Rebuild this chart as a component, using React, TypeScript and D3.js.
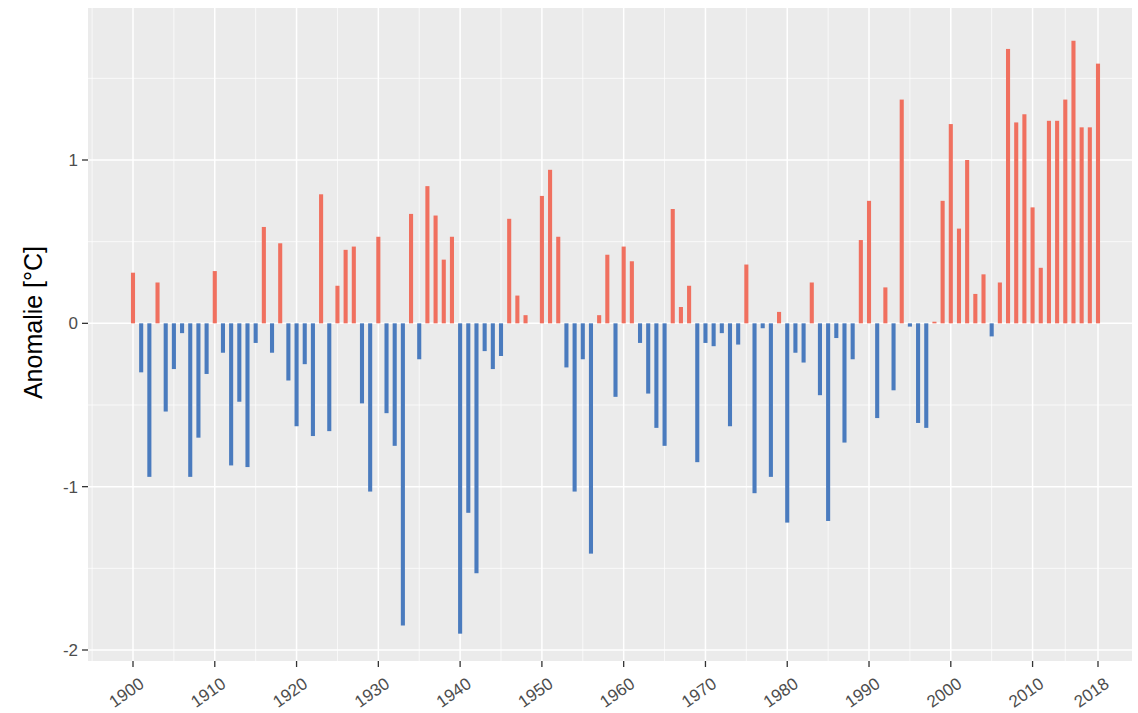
import React from "react";
import * as d3 from "d3";

const years: number[] = d3.range(1900, 2019);
const anomalies: number[] = [
  0.31, -0.30, -0.94, 0.25, -0.54, -0.28, -0.06, -0.94, -0.70, -0.31,
  0.32, -0.18, -0.87, -0.48, -0.88, -0.12, 0.59, -0.18, 0.49, -0.35,
  -0.63, -0.25, -0.69, 0.79, -0.66, 0.23, 0.45, 0.47, -0.49, -1.03,
  0.53, -0.55, -0.75, -1.85, 0.67, -0.22, 0.84, 0.66, 0.39, 0.53,
  -1.90, -1.16, -1.53, -0.17, -0.28, -0.20, 0.64, 0.17, 0.05, 0.00,
  0.78, 0.94, 0.53, -0.27, -1.03, -0.22, -1.41, 0.05, 0.42, -0.45,
  0.47, 0.38, -0.12, -0.43, -0.64, -0.75, 0.70, 0.10, 0.23, -0.85,
  -0.12, -0.14, -0.06, -0.63, -0.13, 0.36, -1.04, -0.03, -0.94, 0.07,
  -1.22, -0.18, -0.24, 0.25, -0.44, -1.21, -0.09, -0.73, -0.22, 0.51,
  0.75, -0.58, 0.22, -0.41, 1.37, -0.02, -0.61, -0.64, 0.01, 0.75,
  1.22, 0.58, 1.00, 0.18, 0.30, -0.08, 0.25, 1.68, 1.23, 1.28,
  0.71, 0.34, 1.24, 1.24, 1.37, 1.73, 1.20, 1.20, 1.59,
];
const xBreaks: number[] = [1900, 1910, 1920, 1930, 1940, 1950, 1960, 1970, 1980, 1990, 2000, 2010, 2018];
const yBreaks: number[] = [-2, -1, 0, 1];
const yMinor: number[] = [-1.5, -0.5, 0.5, 1.5];
const yTitle = "Anomalie [°C]";

const W = 1138;
const H = 713;
const PL = 88;
const PR = 1132;
const PT = 8;
const PB = 661;

const POS = "#F0705F";
const NEG = "#4A7BBE";
const FONT = "'Liberation Sans', Arial, Helvetica, sans-serif";

export default function App() {
  const x = d3.scaleLinear().domain([1900, 2018]).range([133, 1098]);
  const y = d3.scaleLinear().domain([-2, 1]).range([650, 160]);
  const bw = x(1900.5) - x(1900);

  const ext = [xBreaks[0] - (xBreaks[1] - xBreaks[0]), ...xBreaks];
  const xMinor: number[] = [];
  for (let i = 0; i < ext.length - 1; i++) xMinor.push((ext[i] + ext[i + 1]) / 2);

  return (
    <svg
      width={W}
      height={H}
      style={{ position: "absolute", left: 0, top: 0, background: "#fff" }}
    >
      <rect x={PL} y={PT} width={PR - PL} height={PB - PT} fill="#EBEBEB" />
      {yMinor.map((v) => (
        <line key={"ym" + v} x1={PL} x2={PR} y1={y(v)} y2={y(v)} stroke="#fff" strokeWidth={0.7} />
      ))}
      {xMinor
        .filter((v) => x(v) > PL && x(v) < PR)
        .map((v) => (
          <line key={"xm" + v} x1={x(v)} x2={x(v)} y1={PT} y2={PB} stroke="#fff" strokeWidth={0.7} />
        ))}
      {yBreaks.map((v) => (
        <line key={"yg" + v} x1={PL} x2={PR} y1={y(v)} y2={y(v)} stroke="#fff" strokeWidth={1.5} />
      ))}
      {xBreaks.map((v) => (
        <line key={"xg" + v} x1={x(v)} x2={x(v)} y1={PT} y2={PB} stroke="#fff" strokeWidth={1.5} />
      ))}
      {years.map((yr, i) => {
        const v = anomalies[i];
        const y0 = y(Math.max(0, v));
        const y1 = y(Math.min(0, v));
        return (
          <rect
            key={yr}
            x={x(yr) - bw / 2}
            y={y0}
            width={bw}
            height={Math.max(0, y1 - y0)}
            fill={v >= 0 ? POS : NEG}
          />
        );
      })}
      {yBreaks.map((v) => (
        <g key={"yt" + v}>
          <line x1={PL - 6} x2={PL} y1={y(v)} y2={y(v)} stroke="#333" strokeWidth={1.3} />
          <text
            x={PL - 10}
            y={y(v)}
            dy="0.35em"
            textAnchor="end"
            fontSize={17}
            fill="#4D4D4D"
            fontFamily={FONT}
          >
            {v}
          </text>
        </g>
      ))}
      {xBreaks.map((v) => (
        <g key={"xt" + v}>
          <line x1={x(v)} x2={x(v)} y1={PB} y2={PB + 6} stroke="#333" strokeWidth={1.3} />
          <text
            transform={`translate(${x(v) + 5},${PB + 15}) rotate(-35)`}
            dy="0.75em"
            textAnchor="end"
            fontSize={17}
            fill="#4D4D4D"
            fontFamily={FONT}
          >
            {v}
          </text>
        </g>
      ))}
      <text
        transform={`translate(42,${(PT + PB) / 2 - 12}) rotate(-90)`}
        textAnchor="middle"
        fontSize={25}
        fill="#000"
        fontFamily={FONT}
      >
        {yTitle}
      </text>
    </svg>
  );
}
